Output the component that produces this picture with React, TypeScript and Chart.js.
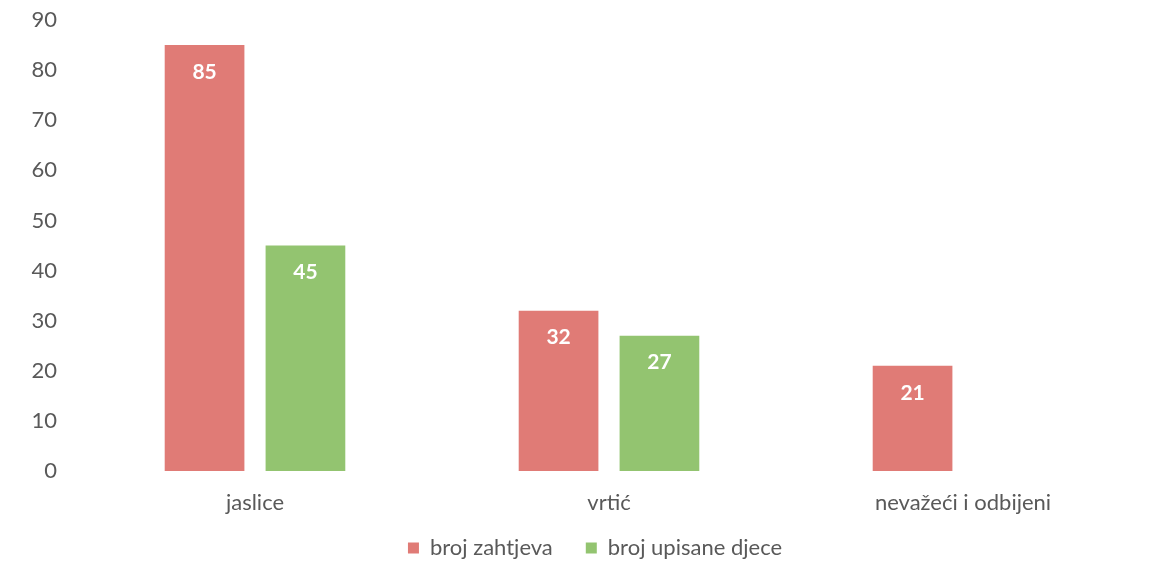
import React, { useEffect, useRef } from "react";
import { Chart, registerables } from "chart.js";

Chart.register(...registerables);

const categories = ["jaslice", "vrtić", "nevažeći i odbijeni"];
const zahtjevaValues = [85, 32, 21];
const upisaneValues: (number | null)[] = [45, 27, null];
const seriesNames = ["broj zahtjeva", "broj upisane djece"];
const yTicks = { min: 0, max: 90, step: 10 };

const RED = "#E07B76";
const GREEN = "#93C470";
const TEXT = "#595959";
const FONT = "Lato, 'Open Sans', sans-serif";
const FS = 22;

const labelPlugin = {
  id: "barValueLabels",
  afterDatasetsDraw(chart: any) {
    const ctx = chart.ctx;
    ctx.save();
    ctx.fillStyle = "#ffffff";
    ctx.font = `bold 21px ${FONT}`;
    ctx.textAlign = "center";
    ctx.textBaseline = "middle";
    chart.data.datasets.forEach((ds: any, i: number) => {
      const meta = chart.getDatasetMeta(i);
      meta.data.forEach((bar: any, j: number) => {
        const v = ds.data[j];
        if (v === null || v === undefined) return;
        ctx.fillText(String(v), bar.x, bar.y + 27);
      });
    });
    ctx.restore();
  },
};

const legendShiftPlugin = {
  id: "legendShift",
  afterLayout(chart: any) {
    const lg = chart.legend;
    if (lg) {
      lg.left += 25;
      lg.right += 25;
      lg.top -= 23;
    }
  },
};

export default function App() {
  const ref = useRef<HTMLCanvasElement>(null);
  useEffect(() => {
    document.body.style.margin = "0";
    const chart = new Chart(ref.current!, {
      type: "bar",
      data: {
        labels: categories,
        datasets: [
          {
            label: seriesNames[0],
            data: zahtjevaValues,
            backgroundColor: RED,
            categoryPercentage: 0.57,
            barPercentage: 0.79,
          },
          {
            label: seriesNames[1],
            data: upisaneValues,
            backgroundColor: GREEN,
            categoryPercentage: 0.57,
            barPercentage: 0.79,
          },
        ],
      },
      options: {
        responsive: false,
        animation: false,
        layout: { padding: { top: 0, right: 14, left: 0, bottom: 0 } },
        plugins: {
          tooltip: { enabled: false },
          legend: {
            position: "bottom",
            maxHeight: 42,
            labels: {
              boxWidth: 11,
              boxHeight: 11,
              padding: 33,
              color: TEXT,
              font: { family: FONT, size: FS },
            },
          },
        },
        scales: {
          x: {
            grid: { display: false, drawTicks: false },
            border: { display: false },
            ticks: { color: TEXT, font: { family: FONT, size: FS }, padding: 19 },
            afterFit(scale: any) {
              scale.height = 56;
            },
          },
          y: {
            min: yTicks.min,
            max: yTicks.max,
            grid: { display: false, drawTicks: false },
            border: { display: false },
            ticks: {
              stepSize: yTicks.step,
              color: TEXT,
              font: { family: FONT, size: FS },
              padding: 21,
            },
            afterFit(scale: any) {
              scale.width = 78;
              scale.paddingTop = 20;
              scale.paddingBottom = 0;
            },
          },
        },
      },
      plugins: [labelPlugin, legendShiftPlugin],
    });
    return () => chart.destroy();
  }, []);
  return (
    <div style={{ width: 1154, height: 569 }}>
      <canvas ref={ref} width={1154} height={569} />
    </div>
  );
}
